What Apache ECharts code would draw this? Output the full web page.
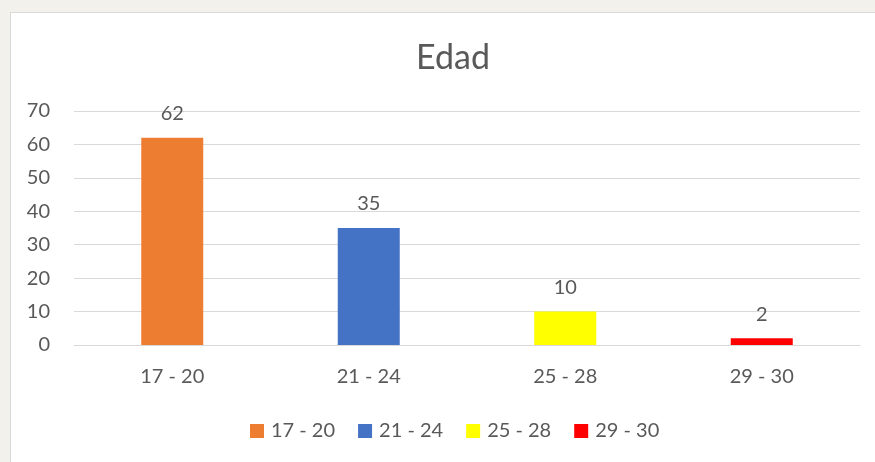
<!DOCTYPE html>
<html>
<head>
<meta charset="utf-8">
<script src="https://cdn.jsdelivr.net/npm/echarts@6/dist/echarts.min.js"></script>
<style>
  html, body { margin: 0; padding: 0; background: #f2f1ec; }
  .frame {
    position: absolute; left: 10px; top: 12px; width: 880px; height: 460px;
    background: #ffffff; border: 1px solid #d9d9d9;
  }
  #chart { position: absolute; left: 0; top: 0; width: 875px; height: 462px; }
</style>
</head>
<body>
<div class="frame"></div>
<div id="chart"></div>
<script>
// 分类与数值
const categories = ['17 - 20', '21 - 24', '25 - 28', '29 - 30']
const values = [62, 35, 10, 2]
const colors = ['#ED7D31', '#4472C4', '#FFFF00', '#FF0000']
const yTicks = [0, 10, 20, 30, 40, 50, 60, 70]

const textColor = '#595959'
const font = 'Lato, "Open Sans", sans-serif'

const chart = echarts.init(document.getElementById('chart'))

chart.setOption({
  animation: false,
  title: {
    text: 'Edad',
    left: 448,
    textAlign: 'center',
    top: 36,
    textStyle: { color: textColor, fontSize: 34, fontWeight: 'normal', fontFamily: font }
  },
  legend: {
    top: 416,
    left: 245,
    itemWidth: 14,
    itemHeight: 14,
    itemGap: 23,
    icon: 'rect',
    textStyle: { color: textColor, fontSize: 20, fontFamily: font, padding: [0, 0, 0, 2] },
    data: categories
  },
  grid: { left: 74, right: 15, top: 111, bottom: 117 },
  xAxis: {
    type: 'category',
    data: categories,
    axisLine: { lineStyle: { color: '#d9d9d9', width: 1 } },
    axisTick: { show: false },
    axisLabel: { color: textColor, fontSize: 20, fontFamily: font, margin: 22 }
  },
  yAxis: {
    type: 'value',
    min: yTicks[0],
    max: yTicks[yTicks.length - 1],
    interval: 10,
    axisLine: { show: false },
    axisTick: { show: false },
    splitLine: { lineStyle: { color: '#d9d9d9', width: 1 } },
    axisLabel: { color: textColor, fontSize: 20, fontFamily: font, margin: 24 }
  },
  series: categories.map((name, i) => ({
    name: name,
    type: 'bar',
    stack: 'total',
    barWidth: 62,
    data: values.map((v, j) => (j === i ? v : null)),
    itemStyle: { color: colors[i] },
    label: {
      show: true,
      position: 'top',
      distance: 14,
      color: textColor,
      fontSize: 20,
      fontFamily: font
    }
  }))
})
</script>
</body>
</html>
